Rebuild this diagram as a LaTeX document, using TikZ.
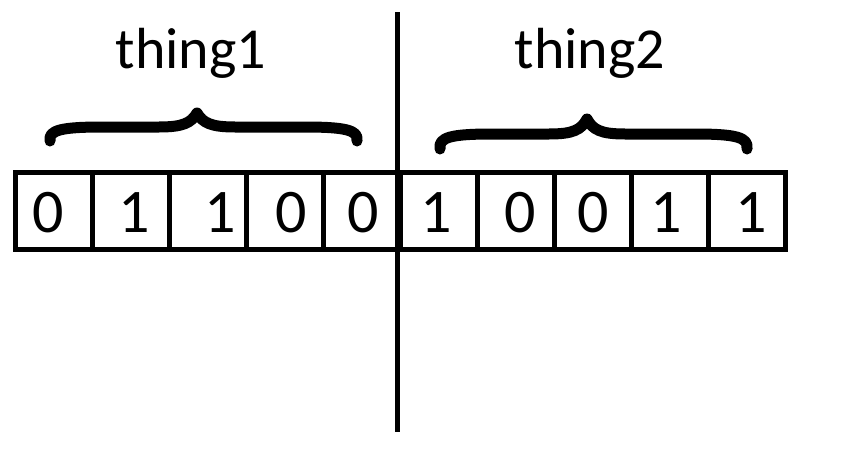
\documentclass[tikz,border=0pt]{standalone}
\usepackage{fontspec}
\setmainfont{Carlito}
\usetikzlibrary{positioning}
\tikzset{
	bitcell/.style={draw, line width=5pt, minimum width=77pt, minimum height=77pt, inner sep=0pt},
	bittext/.style={anchor=base, inner sep=0pt, font=\fontsize{62}{62}\selectfont},
	grouplabel/.style={anchor=base, inner sep=0pt, font=\fontsize{58}{58}\selectfont},
	bracestroke/.style={line width=11pt, line cap=round, line join=round},
}
\begin{document}
\begin{tikzpicture}[x=1pt, y=-1pt]
		\useasboundingbox (0,0) rectangle (863,455);
		% the ten bits
		\foreach \i/\b/\dx in {1/0/-5, 2/1/4, 3/1/13, 4/0/7, 5/0/2, 6/1/-2, 7/0/5, 8/0/1, 9/1/-3, 10/1/5}{
			\node[bitcell] (cell\i) at ({15+77*\i-38.5}, 211) {};
			\node[bittext] (bit\i) at ({15+77*\i-38.5+\dx}, 232) {\b};
		}
		% group names
		\node[grouplabel] (thing1) at (191, 68) {thing1};
		\node[grouplabel] (thing2) at (590, 68) {thing2};
		% braces
		\foreach \xl/\xm/\xr/\yt/\yb/\ye in {48/197/359/113/127/141, 438/587/749/119/134/149}{
			\draw[bracestroke] (\xl+2,\ye) .. controls (\xl,\yb+3) and (\xl+14,\yb) .. (\xl+55,\yb)
				-- (\xm-38,\yb) .. controls (\xm-14,\yb) and (\xm-6,\yb-4) .. (\xm,\yt)
				.. controls (\xm+6,\yb-4) and (\xm+14,\yb) .. (\xm+38,\yb)
				-- (\xr-55,\yb) .. controls (\xr-14,\yb) and (\xr,\yb+3) .. (\xr-2,\ye);
		}
		% divider
		\coordinate (divtop) at (397.5, 12);
		\coordinate (divbot) at (397.5, 432);
		\draw[line width=5.5pt] (divtop) -- (divbot);
	\end{tikzpicture}
\end{document}
